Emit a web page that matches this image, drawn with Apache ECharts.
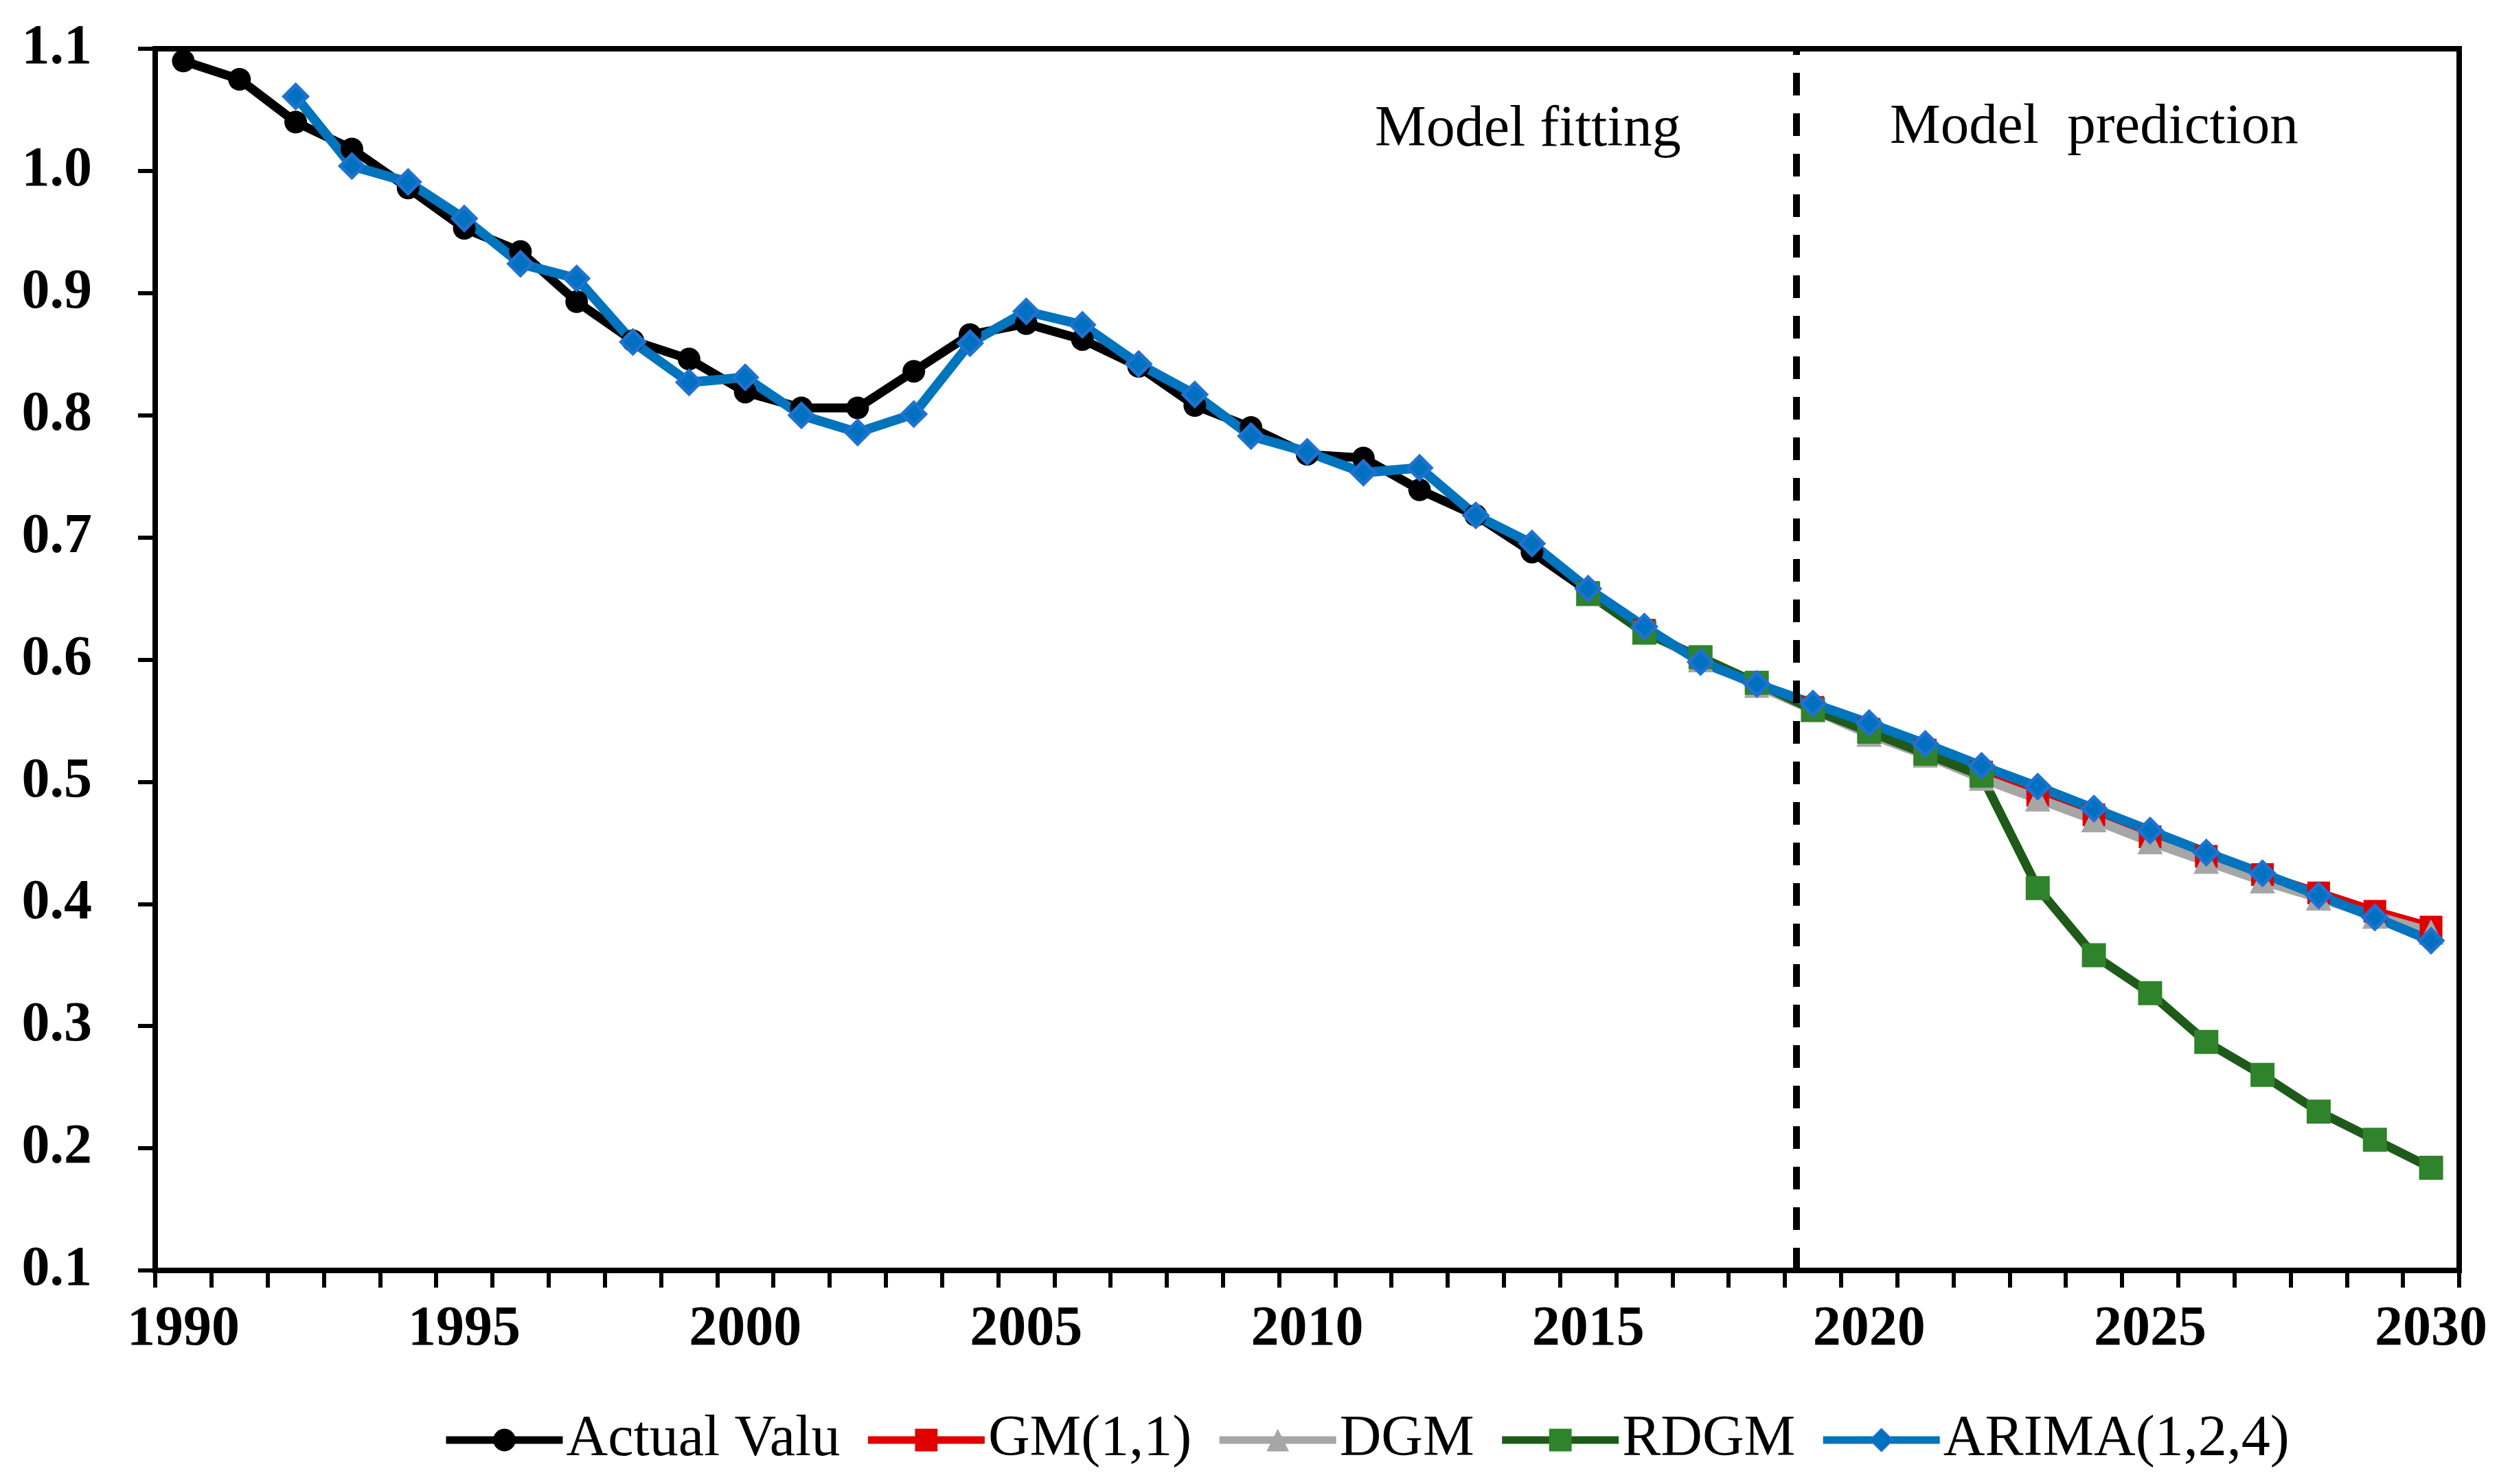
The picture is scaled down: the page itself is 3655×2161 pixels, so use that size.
<!DOCTYPE html>
<html>
<head>
<meta charset="utf-8">
<script src="https://cdn.jsdelivr.net/npm/echarts@6/dist/echarts.min.js"></script>
<style>
html,body{margin:0;padding:0;background:#fff;}
#chart{width:3655px;height:2161px;}
</style>
</head>
<body>
<div id="chart"></div>
<script>
const years = [];
for (let y = 1990; y <= 2030; y++) years.push(String(y));

const actualValues = [1.090,1.075,1.040,1.018,0.986,0.953,0.934,0.893,0.861,0.846,
  0.819,0.806,0.806,0.836,0.866,0.875,0.862,0.840,0.808,0.790,
  0.768,0.765,0.739,0.718,0.688,0.656,0.624,0.600,0.580];

const gmValues = [0.655,0.624,0.601,0.580,0.561,0.543,0.526,0.508,0.489,0.473,0.455,0.439,0.424,0.409,0.394,0.381];
const dgmValues = [0.654,0.623,0.600,0.579,0.559,0.539,0.522,0.503,0.486,0.469,0.451,0.435,0.419,0.405,0.390,0.377];
const rdgmValues = [0.654,0.622,0.602,0.581,0.559,0.541,0.523,0.505,0.413,0.358,0.327,0.287,0.260,0.230,0.207,0.184];
const arimaValues = [1.061,1.004,0.991,0.961,0.924,0.912,0.860,0.827,0.831,0.800,
  0.786,0.801,0.859,0.885,0.874,0.842,0.817,0.783,0.770,0.753,
  0.757,0.718,0.695,0.658,0.627,0.598,0.580,0.564,0.548,0.531,
  0.513,0.496,0.478,0.460,0.442,0.425,0.407,0.389,0.370];

const actualStart = '1990', modelStart = '2015', arimaStart = '1992';
const boundaryYear = 2018.7;   // position of the dashed fitting / prediction divider
const seriesNames = ['Actual Valu', 'GM(1,1)', 'DGM', 'RDGM', 'ARIMA(1,2,4)'];
const yTicks = { min: 0.1, max: 1.1, step: 0.1 };

function align(values, startYear) {
  const s = years.indexOf(startYear);
  return years.map((_, i) => (i >= s && i - s < values.length) ? values[i - s] : null);
}

const FONT = "'Liberation Serif', 'Times New Roman', serif";

function lineSeries(name, values, start, color, markerColor, symbol, size, width, border) {
  return {
    name, type: 'line', data: align(values, start),
    symbol, symbolSize: size, showSymbol: true,
    lineStyle: { color, width },
    itemStyle: border ? { color: markerColor, borderColor: border.color, borderWidth: border.width }
                      : { color: markerColor, borderWidth: 0 },
    emphasis: { disabled: true },
    animation: false, connectNulls: false
  };
}

const chart = echarts.init(document.getElementById('chart'));
chart.setOption({
  backgroundColor: '#fff',
  animation: false,
  grid: { left: 226, right: 74, top: 71, bottom: 311, show: true, borderColor: '#000', borderWidth: 8, containLabel: false },
  legend: {
    data: seriesNames, left: 639, top: 2050, itemWidth: 170, itemHeight: 41, itemGap: 35,
    lineStyle: { width: 11 },
    textStyle: { fontFamily: FONT, fontSize: 84, color: '#000' }
  },
  xAxis: [{
    type: 'category', data: years, boundaryGap: true,
    axisLine: { onZero: false, lineStyle: { color: '#000', width: 8 } },
    axisTick: { show: true, interval: 0, length: 25, lineStyle: { color: '#000', width: 6 } },
    axisLabel: { interval: 4, margin: 46, fontFamily: FONT, fontWeight: 'bold', fontSize: 82, color: '#000' },
    splitLine: { show: false }
  }, {
    type: 'value', show: false, min: -0.5, max: years.length - 0.5,
    axisLine: { show: false, onZero: false }, splitLine: { show: false }
  }],
  yAxis: {
    type: 'value', min: yTicks.min, max: yTicks.max, interval: yTicks.step,
    axisLine: { show: true, onZero: false, lineStyle: { color: '#000', width: 8 } },
    axisTick: { show: true, length: 25, lineStyle: { color: '#000', width: 6 } },
    axisLabel: { margin: 92, fontFamily: FONT, fontWeight: 'bold', fontSize: 82, color: '#000',
      formatter: v => v.toFixed(1) },
    splitLine: { show: false }
  },
  graphic: [
    { type: 'text', left: 2002, top: 148, style: { text: 'Model fitting', font: "84px 'Liberation Serif'", fill: '#000' } },
    { type: 'text', left: 2752, top: 145, style: { text: 'Model  prediction', font: "83px 'Liberation Serif'", fill: '#000' } }
  ],
  series: [
    lineSeries(seriesNames[0], actualValues, actualStart, '#000000', '#000000', 'circle', 33, 13),
    lineSeries(seriesNames[1], gmValues, modelStart, '#E00000', '#E00000', 'rect', 33, 13),
    lineSeries(seriesNames[2], dgmValues, modelStart, '#A6A6A6', '#A6A6A6', 'triangle', 37, 14),
    lineSeries(seriesNames[3], rdgmValues, modelStart, '#1E5A19', '#2F832A', 'rect', 35, 13),
    lineSeries(seriesNames[4], arimaValues, arimaStart, '#0074BC', '#0070C0', 'diamond', 34, 14, { color: '#1F72D0', width: 5 }),
    {
      name: 'divider', type: 'line', xAxisIndex: 1, data: [], silent: true,
      markLine: {
        silent: true, symbol: ['none', 'none'], label: { show: false },
        lineStyle: { color: '#000', width: 10, type: [33, 26] },
        data: [{ xAxis: boundaryYear - Number(years[0]) }]
      }
    }
  ]
});
</script>
</body>
</html>
